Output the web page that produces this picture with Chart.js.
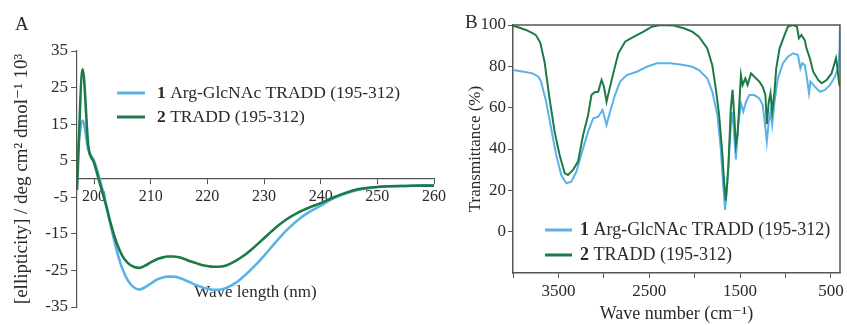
<!DOCTYPE html>
<html><head><meta charset="utf-8">
<script src="https://cdn.jsdelivr.net/npm/chart.js@4/dist/chart.umd.min.js"></script>
<style>
html,body{margin:0;padding:0;background:#fff;}
body{width:847px;height:325px;position:relative;overflow:hidden;}
#ca{position:absolute;left:0;top:0;}
#cb{position:absolute;left:445px;top:0;}
</style></head>
<body>
<canvas id="ca" width="470" height="325"></canvas>
<canvas id="cb" width="402" height="325"></canvas>
<script>
// ---------- Panel A : CD spectra ----------
const cdWavelength = [197,198,199,200,201,202,203,204,205,206,207,208,209,210,211,212,213,214,215,216,217,218,219,220,221,222,223,224,225,226,227,228,229,230,232,234,236,238,240,242,244,246,248,250,252,255,258,260];
const cdArgGlcNAc = [7,16,8,5,0,-6,-13,-19.5,-24.5,-27.8,-29.6,-30.2,-29.6,-28.6,-27.6,-27,-26.7,-26.7,-27,-27.6,-28.3,-29,-29.6,-30,-30.3,-30.3,-30,-29.3,-28.4,-27.2,-25.8,-24.3,-22.7,-21,-17.4,-14,-11.2,-9,-7.3,-5.5,-4.2,-3.2,-2.6,-2.2,-2,-1.9,-1.8,-1.8];
const cdTradd = [-3,30,9,4.5,-1,-6.5,-12.5,-17.5,-21,-23,-24,-24.3,-23.7,-22.8,-22,-21.5,-21.2,-21.2,-21.4,-21.9,-22.5,-23,-23.5,-23.8,-24,-24,-23.8,-23.2,-22.4,-21.4,-20.3,-19,-17.6,-16.2,-13.4,-11,-9.2,-7.8,-6.6,-5.2,-4,-3,-2.5,-2.2,-2,-1.9,-1.8,-1.8];
const cdXTicks = [200,210,220,230,240,250,260];
const cdYTicks = [-35,-25,-15,-5,5,15,25,35];

// ---------- Panel B : IR spectra ----------
const irWaveArgGlcNAc = [4000,3900,3783,3720,3691,3635,3580,3524,3469,3413,3358,3302,3228,3173,3117,3062,3014,2970,2932,2877,2821,2748,2637,2526,2415,2267,2119,2027,1953,1861,1806,1750,1713,1684,1665,1639,1613,1591,1573,1546,1521,1491,1465,1435,1398,1343,1288,1251,1221,1206,1184,1165,1147,1121,1084,1028,973,918,863,836,815,788,769,741,725,677,621,566,510,455,418,405,400];
const irArgGlcNAc = [78.2,77.5,76.6,75,72.6,62.9,50,37.1,27.4,23.4,24.2,29,40.3,48.4,54.9,55.6,58.9,51.6,58,66.1,72.6,75.8,77.4,79.8,81.5,81.5,80.6,79.8,78.2,74.2,67.7,56.5,40.3,21,10.5,24.2,43.5,58,51.6,35,51.6,62.1,58,62.9,66.1,66.1,64.5,61.3,50,43.5,53.2,58,51.6,62.9,74.2,81.5,84.7,86.3,85.5,79,81.5,80.6,75.8,67,72.6,70.2,67.7,68.6,71,75,80,88,100];
const irWaveTradd = [4000,3950,3857,3780,3746,3700,3653,3598,3542,3487,3431,3395,3339,3284,3228,3173,3136,3100,3062,3025,2999,2970,2940,2896,2840,2766,2674,2563,2471,2378,2230,2119,2027,1953,1861,1806,1768,1731,1694,1676,1657,1640,1628,1602,1583,1565,1546,1528,1509,1491,1472,1442,1417,1380,1343,1288,1251,1221,1206,1184,1165,1147,1121,1102,1065,1010,973,918,874,852,825,788,769,732,695,640,603,547,492,444,430,411,400];
const irTradd = [99.5,99,97.6,96,95,91.5,82.2,64.5,48.4,37.1,28.3,27.4,29.9,33.9,46.8,56.5,66.1,67.5,67.7,73.4,70.2,62.9,68.6,76.6,86.3,91.9,94.3,96.8,99.2,100,99.7,98.4,96.8,94.3,88.7,80.6,69.4,56.5,37.1,24.2,15,25,32.3,59.7,68.6,56.5,41.9,46.8,61.3,75.8,71,74.2,71,76.6,75,72.6,70.2,66.1,52,62.9,67,58,67.7,79,88.7,95.2,99.2,100,99.2,93.6,95.2,92.7,88.7,83.9,77.4,73.4,71.8,73.4,76.6,84,80,72,70];
const irXTicks = [4000,3500,3000,2500,2000,1500,1000,500];
const irXLabels = [3500,2500,1500,500];
const irYTicks = [0,20,40,60,80,100];

const legendNumbers = ['1','2'];
const seriesNames = ['Arg-GlcNAc TRADD (195-312)','TRADD (195-312)'];
const blue = '#5ab2e6';
const green = '#1b7a45';
const axisColor = '#555';
const textColor = '#2a2a2a';

Chart.defaults.font.family = '"Liberation Serif","DejaVu Serif",serif';
Chart.defaults.font.size = 17;
Chart.defaults.color = textColor;

function pts(xs, ys){ return xs.map((x,i)=>({x:x, y:ys[i]})); }

function legendPlugin(x0, y0, dy, lineLen, gap, size){
  return {
    id:'customLegend',
    afterDraw(chart){
      const ctx = chart.ctx;
      ctx.save();
      chart.data.datasets.forEach((ds,i)=>{
        const y = y0 + i*dy;
        ctx.strokeStyle = ds.borderColor; ctx.lineWidth = 3;
        ctx.beginPath(); ctx.moveTo(x0,y); ctx.lineTo(x0+lineLen,y); ctx.stroke();
        ctx.fillStyle = textColor; ctx.textBaseline='middle'; ctx.textAlign='left';
        ctx.font = 'bold ' + size + 'px "Liberation Serif"';
        const tx = x0+lineLen+gap;
        ctx.fillText(legendNumbers[i], tx, y);
        const w = ctx.measureText(legendNumbers[i]+' ').width;
        ctx.font = size + 'px "Liberation Serif"';
        ctx.fillText(seriesNames[i], tx+w, y);
      });
      ctx.restore();
    }
  };
}
function letterPlugin(letter, x, y){
  return { id:'letter', afterDraw(chart){ const c=chart.ctx; c.save(); c.fillStyle=textColor; c.font='19px "Liberation Serif"'; c.textBaseline='alphabetic'; c.fillText(letter,x,y); c.restore(); } };
}
const framePlugin = { id:'frame', afterDraw(chart){ const a=chart.chartArea, c=chart.ctx; c.save(); c.strokeStyle=axisColor; c.lineWidth=1.5; c.beginPath(); c.moveTo(a.left,a.top); c.lineTo(a.right,a.top); c.lineTo(a.right,a.bottom); c.stroke(); c.restore(); } };

new Chart(document.getElementById('ca'), {
  type:'line',
  data:{ datasets:[
    {label:seriesNames[0], data:pts(cdWavelength,cdArgGlcNAc), borderColor:blue, borderWidth:2.6, pointRadius:0, cubicInterpolationMode:'monotone', order:1},
    {label:seriesNames[1], data:pts(cdWavelength,cdTradd), borderColor:green, borderWidth:2.6, pointRadius:0, cubicInterpolationMode:'monotone', order:0}
  ]},
  options:{
    responsive:false, animation:false, devicePixelRatio:1,
    layout:{padding:{left:0, top:51, right:36, bottom:18}},
    plugins:{legend:{display:false}, tooltip:{enabled:false}},
    scales:{
      x:{ type:'linear', min:197, max:260, position:{y:0},
        afterBuildTicks:s=>{ s.ticks = cdXTicks.map(v=>({value:v})); },
        ticks:{ padding:3, font:{size:16}, maxRotation:0, autoSkip:false },
        grid:{ drawOnChartArea:false, tickLength:5, color:axisColor },
        border:{ color:axisColor, width:1.2 },
        title:{ display:true, text:'Wave length (nm)', padding:0, font:{size:17} },
        afterFit:s=>{ s.height = 124; }
      },
      y:{ min:-35, max:35,
        afterBuildTicks:s=>{ s.ticks = cdYTicks.map(v=>({value:v})); },
        ticks:{ padding:3, font:{size:17} },
        grid:{ drawOnChartArea:false, tickLength:6, color:axisColor },
        border:{ color:axisColor, width:1.2 },
        title:{ display:true, text:'[ellipticity] / deg cm² dmol⁻¹ 10³', padding:{top:11,bottom:0}, font:{size:19} },
        afterFit:s=>{ s.width = 77; }
      }
    }
  },
  plugins:[legendPlugin(117, 93, 24, 28, 12, 17.5), letterPlugin('A', 15, 30)]
});

new Chart(document.getElementById('cb'), {
  type:'line',
  data:{ datasets:[
    {label:seriesNames[0], data:pts(irWaveArgGlcNAc,irArgGlcNAc), borderColor:blue, borderWidth:2, pointRadius:0, tension:0, order:1},
    {label:seriesNames[1], data:pts(irWaveTradd,irTradd), borderColor:green, borderWidth:2, pointRadius:0, tension:0, order:0}
  ]},
  options:{
    responsive:false, animation:false, devicePixelRatio:1,
    layout:{padding:{left:0, top:25, right:7, bottom:0}},
    plugins:{legend:{display:false}, tooltip:{enabled:false}},
    scales:{
      x:{ type:'linear', min:400, max:4000, reverse:true, position:'bottom',
        afterBuildTicks:s=>{ s.ticks = irXTicks.map(v=>({value:v})); },
        ticks:{ padding:3, font:{size:17}, maxRotation:0, autoSkip:false, callback:v=> irXLabels.includes(v) ? String(v) : '' },
        grid:{ drawOnChartArea:false, tickLength:5, color:axisColor },
        border:{ color:axisColor, width:1.5 },
        title:{ display:true, text:'Wave number (cm⁻¹)', padding:0, font:{size:18} },
        afterFit:s=>{ s.height = 52; }
      },
      y:{ min:-20, max:100,
        afterBuildTicks:s=>{ s.ticks = irYTicks.map(v=>({value:v})); },
        ticks:{ padding:2, font:{size:17} },
        grid:{ drawOnChartArea:false, tickLength:5, color:axisColor },
        border:{ color:axisColor, width:1.5 },
        title:{ display:true, text:'Transmittance (%)', padding:{top:20,bottom:0}, font:{size:17} },
        afterFit:s=>{ s.width = 68; }
      }
    }
  },
  plugins:[legendPlugin(100, 230, 25, 27, 8, 18), letterPlugin('B', 20, 28), framePlugin]
});
</script>
</body></html>
